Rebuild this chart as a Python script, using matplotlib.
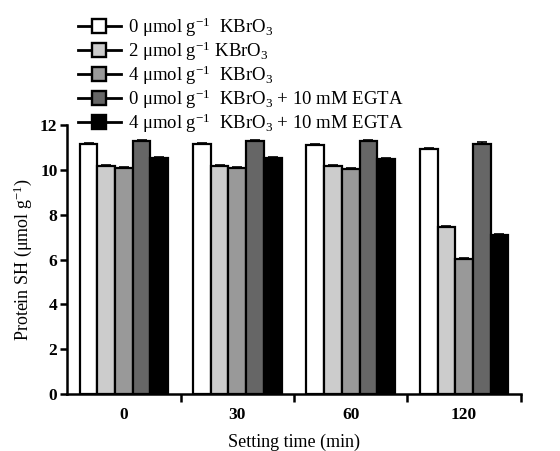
import numpy as np
import matplotlib
matplotlib.use("Agg")
import matplotlib.pyplot as plt
from matplotlib.lines import Line2D

plt.rcParams['font.family'] = ['Liberation Serif', 'DejaVu Serif']
plt.rcParams['mathtext.fontset'] = 'custom'
plt.rcParams['mathtext.rm'] = 'Liberation Serif'
plt.rcParams['mathtext.it'] = 'Liberation Serif:italic'
plt.rcParams['mathtext.bf'] = 'Liberation Serif:bold'

# data
times = ['0', '30', '60', '120']
series_labels = [
    '0 μmol g$^{-1}$  KBrO$_3$',
    '2 μmol g$^{-1}$ KBrO$_3$',
    '4 μmol g$^{-1}$  KBrO$_3$',
    '0 μmol g$^{-1}$  KBrO$_3$ + 10 mM EGTA',
    '4 μmol g$^{-1}$  KBrO$_3$ + 10 mM EGTA',
]
kbro3_0 = [11.15, 11.15, 11.10, 10.92]
kbro3_2 = [10.17, 10.17, 10.15, 7.45]
kbro3_4 = [10.08, 10.08, 10.05, 6.02]
egta_0 = [11.30, 11.28, 11.27, 11.17]
egta_4 = [10.53, 10.53, 10.48, 7.08]
err_0 = [0.06, 0.06, 0.05, 0.07]
err_2 = [0.05, 0.05, 0.06, 0.05]
err_4 = [0.04, 0.04, 0.04, 0.05]
err_e0 = [0.05, 0.05, 0.06, 0.06]
err_e4 = [0.04, 0.04, 0.04, 0.06]

values = [kbro3_0, kbro3_2, kbro3_4, egta_0, egta_4]
errors = [err_0, err_2, err_4, err_e0, err_e4]
colors = ['white', '#cccccc', '#999999', '#666666', 'black']

fig = plt.figure(figsize=(5.6, 4.51), dpi=100)
ax = fig.add_axes([0.12, 0.126, 0.81, 0.597])

barWidth = 0.156
x = np.arange(len(times))
for i in range(5):
    pos = x + (i - 2) * barWidth
    ax.bar(pos, values[i], width=barWidth, color=colors[i], edgecolor='black',
           linewidth=1.6, zorder=2)
    ax.errorbar(pos, values[i], yerr=[np.zeros(4), errors[i]], fmt='none',
                ecolor='black', elinewidth=1.2, capsize=3.5, capthick=1.2, zorder=3)

ax.set_xlim(-0.5, 3.5)
ax.set_ylim(0, 12)
ax.set_yticks([0, 2, 4, 6, 8, 10, 12])
ax.set_xticks(x)
ax.set_xticklabels(times)
ax.tick_params(axis='x', which='major', length=0, pad=9)
ax.set_xticks([0.5, 1.5, 2.5, 3.5], minor=True)
ax.tick_params(axis='x', which='minor', length=6, width=1.8, direction='out')
ax.tick_params(axis='y', length=5, width=1.8, direction='out', pad=2)
for lab in ax.get_xticklabels() + ax.get_yticklabels():
    lab.set_fontsize(12.5)
    lab.set_fontweight('bold')

for s in ['top', 'right']:
    ax.spines[s].set_visible(False)
for s in ['left', 'bottom']:
    ax.spines[s].set_linewidth(1.8)

ax.set_xlabel('Setting time (min)', fontsize=13, labelpad=8)
ax.set_ylabel('Protein SH (μmol g$^{-1}$)', fontsize=13, labelpad=4)

handles = [Line2D([0], [0], color='black', lw=2, marker='s', markersize=9.5,
                  markerfacecolor=c, markeredgecolor='black', markeredgewidth=1.7)
           for c in colors]
fig.legend(handles, series_labels, loc='upper left', bbox_to_anchor=(0.139, 0.966),
           frameon=False, fontsize=13.5, handlelength=2.3, handletextpad=0.35,
           labelspacing=0.035, borderpad=0, borderaxespad=0)

fig.savefig('out.png', dpi=100)
